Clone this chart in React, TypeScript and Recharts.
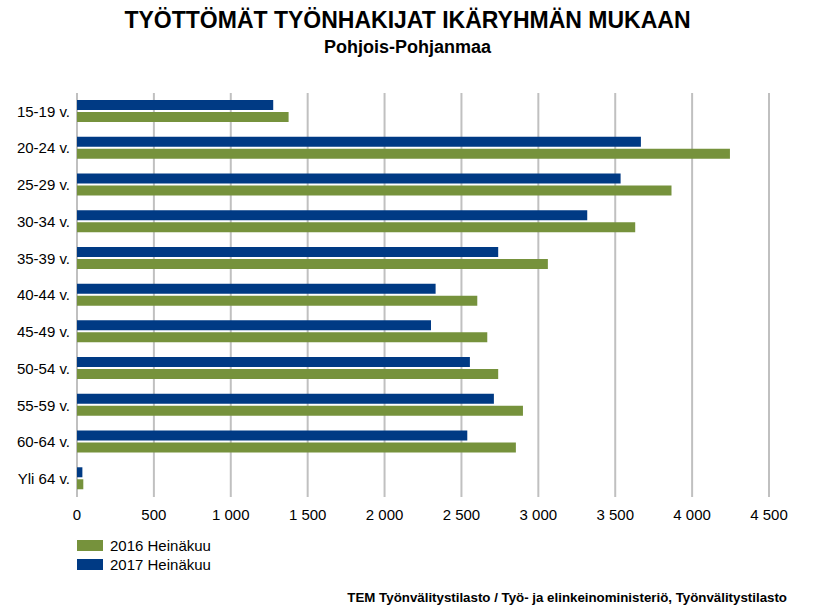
import React from 'react';
import { BarChart, Bar, XAxis, YAxis, CartesianGrid } from 'recharts';

const AGE_GROUPS = [
  '15-19 v.', '20-24 v.', '25-29 v.', '30-34 v.', '35-39 v.', '40-44 v.',
  '45-49 v.', '50-54 v.', '55-59 v.', '60-64 v.', 'Yli 64 v.',
];
const JULY_2016 = [1376, 4246, 3866, 3630, 3062, 2603, 2668, 2739, 2900, 2854, 41];
const JULY_2017 = [1276, 3667, 3535, 3318, 2739, 2332, 2302, 2555, 2711, 2538, 35];
const X_TICKS = [0, 500, 1000, 1500, 2000, 2500, 3000, 3500, 4000, 4500];

const GREEN = '#76923c';
const BLUE = '#003a84';
const FONT = '"Liberation Sans", Arial, sans-serif';

const data = AGE_GROUPS.map((age, i) => ({ age, y2016: JULY_2016[i], y2017: JULY_2017[i] }));

function fmtThousands(v: number): string {
  return String(v).replace(/\B(?=(\d{3})+(?!\d))/g, ' ');
}

export default function App() {
  return (
    <div style={{ position: 'absolute', left: 0, top: 0, width: 815, height: 611, background: '#fff', fontFamily: FONT }}>
      <div style={{ position: 'absolute', top: 6, left: 0, width: 815, textAlign: 'center', fontSize: 23, lineHeight: '28px', fontWeight: 'bold' }}>
        TYÖTTÖMÄT TYÖNHAKIJAT IKÄRYHMÄN MUKAAN
      </div>
      <div style={{ position: 'absolute', top: 37, left: 0, width: 815, textAlign: 'center', fontSize: 18, lineHeight: '21px', fontWeight: 'bold' }}>
        Pohjois-Pohjanmaa
      </div>

      <BarChart
        width={815}
        height={611}
        data={data}
        layout="vertical"
        margin={{ top: 93, right: 46, bottom: 84, left: 7 }}
        barSize={10}
        barGap={2}
      >
        <CartesianGrid horizontal={false} stroke="#c0c0c0" strokeWidth={2} />
        <XAxis
          type="number"
          domain={[0, 4500]}
          ticks={X_TICKS}
          tickFormatter={fmtThousands}
          axisLine={false}
          tickLine={false}
          tickMargin={6}
          height={30}
          tick={{ fill: '#000', fontSize: 15, fontFamily: FONT }}
        />
        <YAxis
          type="category"
          dataKey="age"
          width={70}
          axisLine={false}
          tickLine={false}
          tickSize={5}
          tickMargin={2}
          tick={{ fill: '#000', fontSize: 15, fontFamily: FONT }}
        />
        <Bar dataKey="y2017" fill={BLUE} isAnimationActive={false} />
        <Bar dataKey="y2016" fill={GREEN} isAnimationActive={false} />
      </BarChart>

      <div style={{ position: 'absolute', left: 77, top: 536, fontSize: 15 }}>
        {[{ c: GREEN, t: '2016 Heinäkuu' }, { c: BLUE, t: '2017 Heinäkuu' }].map((l) => (
          <div key={l.t} style={{ display: 'flex', alignItems: 'center', height: 19 }}>
            <span style={{ display: 'inline-block', width: 26, height: 11, background: l.c, marginRight: 7 }} />
            <span>{l.t}</span>
          </div>
        ))}
      </div>

      <div style={{ position: 'absolute', right: 28, top: 590, fontSize: 13.3, fontWeight: 'bold' }}>
        TEM Työnvälitystilasto / Työ- ja elinkeinoministeriö, Työnvälitystilasto
      </div>
    </div>
  );
}
